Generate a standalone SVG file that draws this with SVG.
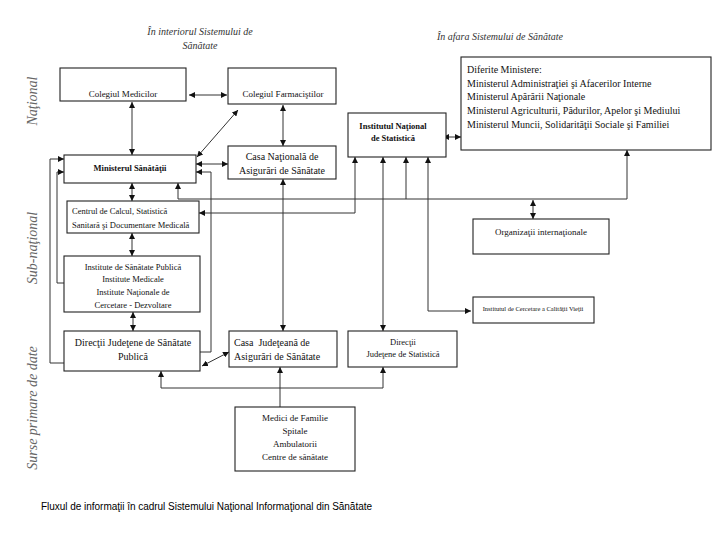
<svg xmlns="http://www.w3.org/2000/svg" width="720" height="540" viewBox="0 0 720 540">
<defs>
<marker id="ah" viewBox="0 0 10 10" refX="10" refY="5" markerWidth="6" markerHeight="6" markerUnits="userSpaceOnUse" orient="auto-start-reverse"><path d="M0,0 L10,5 L0,10 z" fill="#111"/></marker>
<style>
.box{fill:#fff;stroke:#222;stroke-width:1.1}
.t{font-family:"Liberation Serif","Times New Roman",serif;font-size:9px;fill:#111;text-anchor:middle}
.l{text-anchor:start}
.b{font-weight:bold}
.side{font-family:"Liberation Serif","Times New Roman",serif;font-style:italic;font-size:14px;fill:#666;text-anchor:middle}
.hd{font-family:"Liberation Serif","Times New Roman",serif;font-style:italic;font-size:10px;fill:#333;text-anchor:middle}
.c{fill:none;stroke:#333;stroke-width:1}
.cap{font-family:"Liberation Sans",Arial,sans-serif;font-size:10px;fill:#000}
</style>
</defs>
<rect width="720" height="540" fill="#fff"/>

<g id="labels">
<text class="side" transform="translate(37,101) rotate(-90)">Naţional</text>
<text class="side" transform="translate(37,248) rotate(-90)">Sub-naţional</text>
<text class="side" transform="translate(37,408) rotate(-90)">Surse primare de date</text>
<text class="hd" x="200" y="35">În interiorul Sistemului de</text>
<text class="hd" x="200" y="49">Sănătate</text>
<text class="hd" x="500" y="40">În afara Sistemului de Sănătate</text>
<text class="cap" x="41" y="510" textLength="331" lengthAdjust="spacing">Fluxul de informaţii în cadrul Sistemului Naţional Informaţional din Sănătate</text>
</g>

<g id="connectors">
<line class="c" x1="189" y1="95" x2="227" y2="95" marker-start="url(#ah)" marker-end="url(#ah)"/>
<line class="c" x1="132" y1="102" x2="132" y2="155" marker-start="url(#ah)" marker-end="url(#ah)"/>
<line class="c" x1="238" y1="110" x2="197" y2="157" marker-start="url(#ah)" marker-end="url(#ah)"/>
<line class="c" x1="283" y1="105" x2="283" y2="146" marker-start="url(#ah)" marker-end="url(#ah)"/>
<line class="c" x1="196" y1="164" x2="228" y2="164" marker-start="url(#ah)" marker-end="url(#ah)"/>
<path class="c" d="M200,352 H211 V172 H196" marker-end="url(#ah)"/>
<path class="c" d="M64,283 H57 V172 H64" marker-end="url(#ah)"/>
<path class="c" d="M64,363 H50 V159 H64" marker-end="url(#ah)"/>
<line class="c" x1="132" y1="183" x2="132" y2="201" marker-start="url(#ah)" marker-end="url(#ah)"/>
<line class="c" x1="132" y1="233" x2="132" y2="256" marker-start="url(#ah)" marker-end="url(#ah)"/>
<line class="c" x1="133" y1="312" x2="133" y2="331" marker-start="url(#ah)" marker-end="url(#ah)"/>
<line class="c" x1="283" y1="179" x2="283" y2="331" marker-start="url(#ah)" marker-end="url(#ah)"/>
<line class="c" x1="202" y1="366" x2="229" y2="352" marker-start="url(#ah)" marker-end="url(#ah)"/>
<line class="c" x1="280" y1="407" x2="280" y2="367" marker-end="url(#ah)"/>
<path class="c" d="M280,388 H161 V371" marker-end="url(#ah)"/>
<path class="c" d="M280,388 H383 V367" marker-end="url(#ah)"/>
<line class="c" x1="443" y1="137" x2="461" y2="137" marker-start="url(#ah)" marker-end="url(#ah)"/>
<path class="c" d="M178,183 V199 H627 V150" marker-start="url(#ah)" marker-end="url(#ah)"/>
<line class="c" x1="406" y1="199" x2="406" y2="157" stroke-width="1.4" marker-end="url(#ah)"/>
<line class="c" x1="533" y1="200" x2="533" y2="219" marker-start="url(#ah)" marker-end="url(#ah)"/>
<path class="c" d="M355,157 V213 H199" marker-start="url(#ah)" marker-end="url(#ah)"/>
<line class="c" x1="383" y1="157" x2="383" y2="331" marker-start="url(#ah)" marker-end="url(#ah)"/>
<path class="c" d="M428,157 V311 H471" marker-start="url(#ah)" marker-end="url(#ah)"/>
</g>

<g id="colegiul-medicilor">
<rect class="box" x="60" y="68" width="126" height="33"/>
<text class="t" x="123" y="97">Colegiul Medicilor</text>
</g>
<g id="colegiul-farmacistilor">
<rect class="box" x="228" y="68" width="108" height="36"/>
<text class="t" x="283" y="97">Colegiul Farmaciştilor</text>
</g>
<g id="diferite-ministere">
<rect class="box" x="461" y="57" width="250" height="93"/>
<text class="t l" x="467" y="73" style="font-size:10px">Diferite Ministere:</text>
<text class="t l" x="467" y="87" style="font-size:10px">Ministerul Administraţiei şi Afacerilor Interne</text>
<text class="t l" x="467" y="100" style="font-size:10px">Ministerul Apărării Naţionale</text>
<text class="t l" x="467" y="114" style="font-size:10px">Ministerul Agriculturii, Pădurilor, Apelor şi Mediului</text>
<text class="t l" x="467" y="128" style="font-size:10px">Ministerul Muncii, Solidarităţii Sociale şi Familiei</text>
</g>
<g id="institutul-national-statistica">
<rect class="box" x="348" y="113" width="98" height="44"/>
<text class="t b" x="393" y="129" style="font-size:8.5px">Institutul Naţional</text>
<text class="t b" x="393" y="141" style="font-size:8.5px">de Statistică</text>
</g>
<g id="ministerul-sanatatii">
<rect class="box" x="64" y="155" width="132" height="28"/>
<text class="t b" x="130" y="171" style="font-size:8.5px">Ministerul Sănătăţii</text>
</g>
<g id="casa-nationala">
<rect class="box" x="228" y="146" width="108" height="33"/>
<text class="t" x="282" y="160" style="font-size:10px">Casa Naţională de</text>
<text class="t" x="282" y="174" style="font-size:10px">Asigurări de Sănătate</text>
</g>
<g id="centrul-de-calcul">
<rect class="box" x="67" y="201" width="132" height="32"/>
<text class="t l" x="72" y="214" style="font-size:8.5px">Centrul de Calcul, Statistică</text>
<text class="t l" x="72" y="228" style="font-size:8.5px">Sanitară şi Documentare Medicală</text>
</g>
<g id="organizatii-internationale">
<rect class="box" x="473" y="219" width="136" height="35"/>
<text class="t" x="541" y="235" style="font-size:9px">Organizaţii internaţionale</text>
</g>
<g id="institute">
<rect class="box" x="64" y="256" width="136" height="56"/>
<text class="t" x="133" y="270" style="font-size:8.5px">Institute de Sănătate Publică</text>
<text class="t" x="133" y="282" style="font-size:8.5px">Institute Medicale</text>
<text class="t" x="133" y="295" style="font-size:8.5px">Institute Naţionale de</text>
<text class="t" x="133" y="308" style="font-size:8.5px">Cercetare - Dezvoltare</text>
</g>
<g id="institutul-cercetare">
<rect class="box" x="473" y="297" width="121" height="26"/>
<text class="t" x="533" y="311" style="font-size:6.5px">Institutul de Cercetare a Calităţii Vieţii</text>
</g>
<g id="directii-sanatate-publica">
<rect class="box" x="64" y="331" width="136" height="40"/>
<text class="t" x="133" y="346" style="font-size:10px">Direcţii Judeţene de Sănătate</text>
<text class="t" x="133" y="360" style="font-size:10px">Publică</text>
</g>
<g id="casa-judeteana">
<rect class="box" x="229" y="331" width="108" height="36"/>
<text class="t l" x="234" y="346" style="font-size:10px" xml:space="preserve">Casa  Judeţeană de</text>
<text class="t l" x="234" y="360" style="font-size:10px">Asigurări de Sănătate</text>
</g>
<g id="directii-statistica">
<rect class="box" x="348" y="331" width="109" height="36"/>
<text class="t" x="403" y="345" style="font-size:8.5px">Direcţii</text>
<text class="t" x="403" y="357" style="font-size:8.5px">Judeţene de Statistică</text>
</g>
<g id="medici">
<rect class="box" x="235" y="407" width="120" height="64"/>
<text class="t" x="295" y="421" style="font-size:9px">Medici de Familie</text>
<text class="t" x="295" y="434" style="font-size:9px">Spitale</text>
<text class="t" x="295" y="447" style="font-size:9px">Ambulatorii</text>
<text class="t" x="295" y="460" style="font-size:9px">Centre de sănătate</text>
</g>
</svg>
